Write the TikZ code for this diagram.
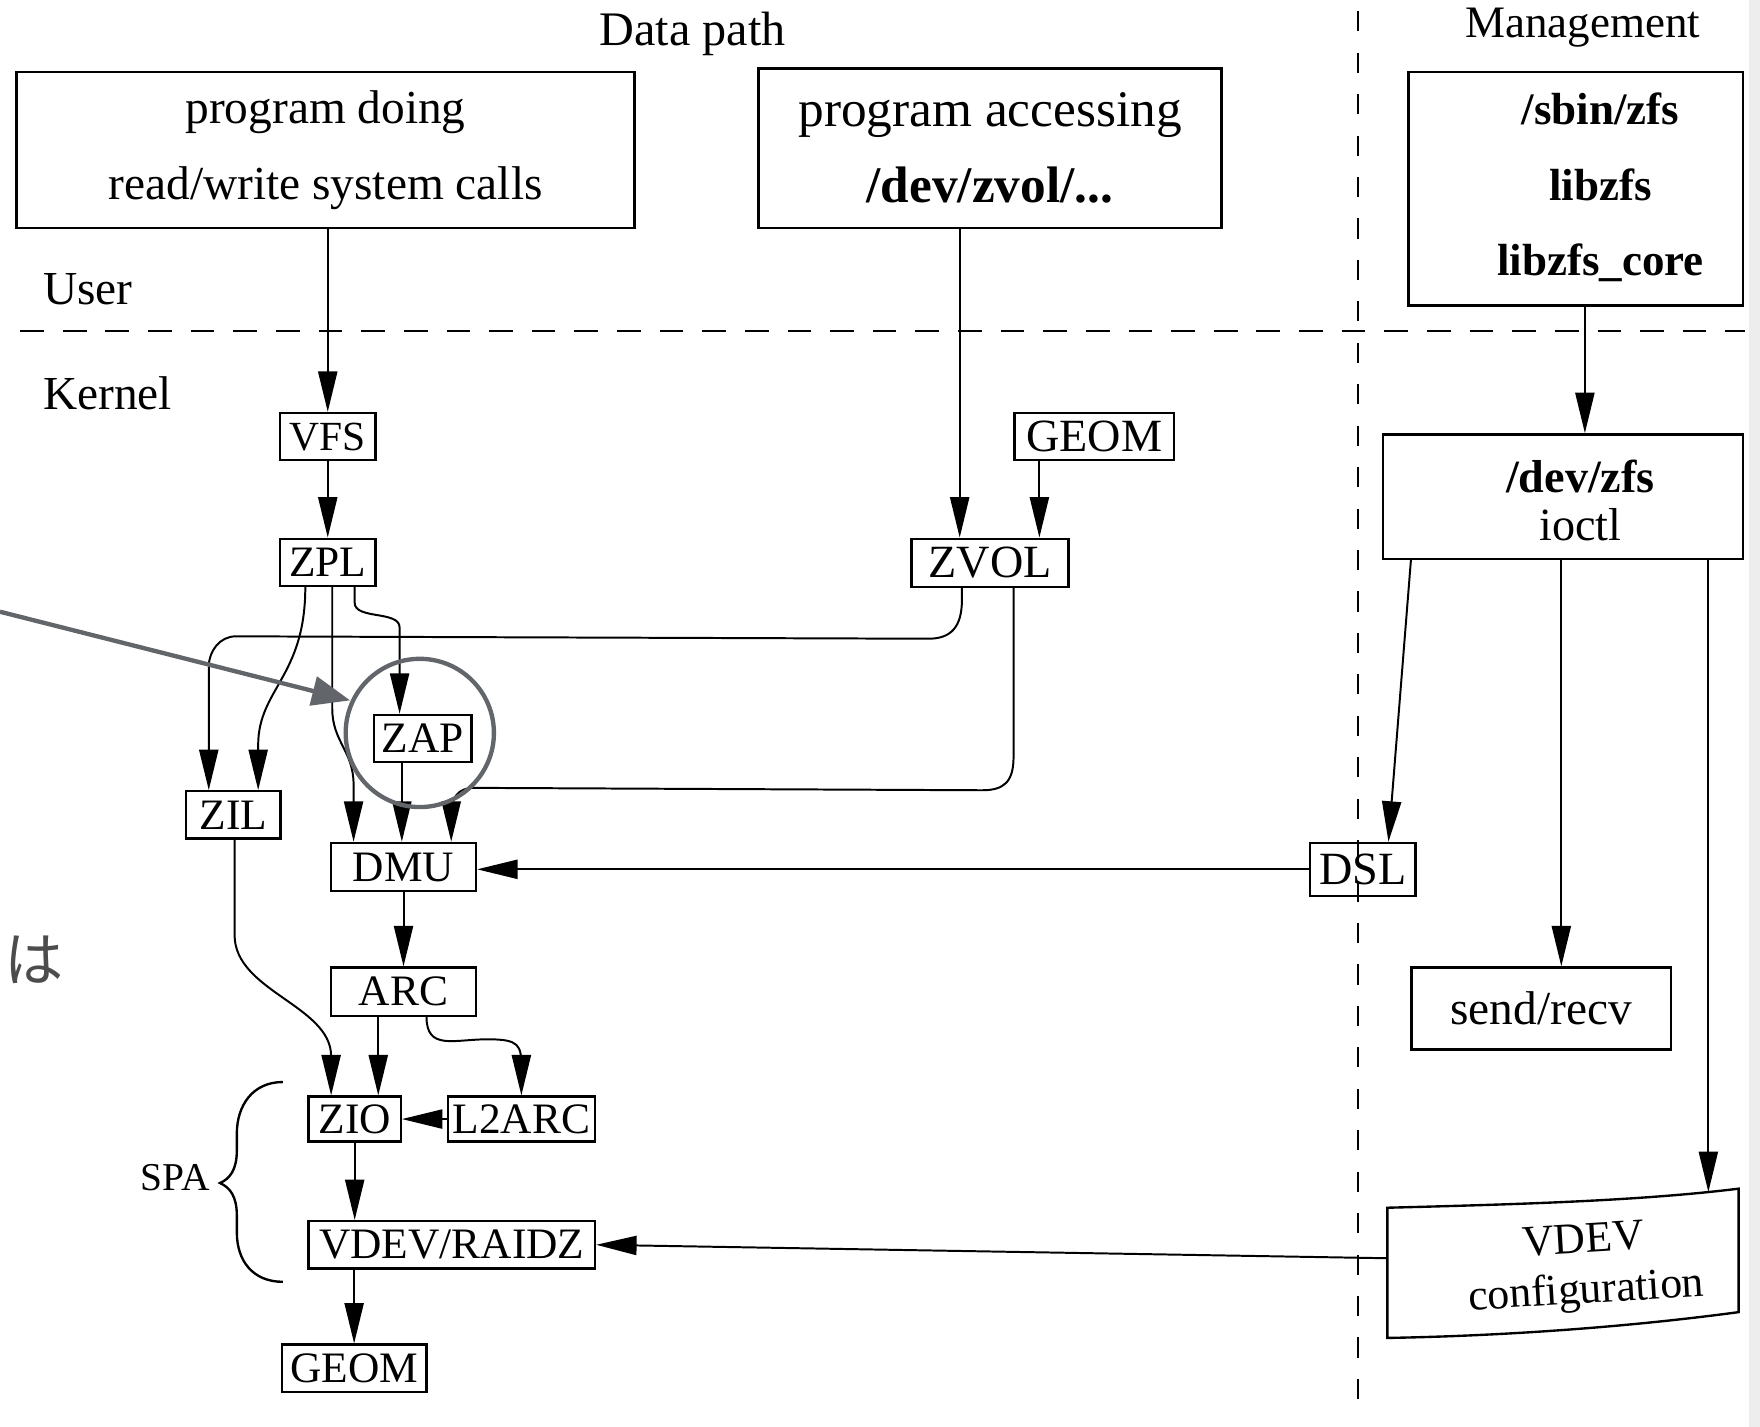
\documentclass[tikz,border=0pt]{standalone}
\usepackage{fontspec}
\setmainfont{Liberation Serif}
\newfontfamily\jpfont{Noto Sans CJK JP}
\usetikzlibrary{calc,arrows.meta}

\definecolor{annotgray}{RGB}{98,102,106}
\tikzset{
  bigbox/.style={draw, line width=0.6pt, inner sep=0pt},
  modbox/.style={draw, line width=0.6pt, inner sep=0pt, minimum height=0.42cm, font=\fontsize{11}{13}\selectfont},
  flow/.style={line width=0.5pt, -{Triangle[length=3.6mm,width=1.7mm]}},
  sepline/.style={line width=0.65pt, dash pattern=on 6pt off 4.8pt},
  vsepline/.style={line width=0.65pt, dash pattern=on 5.1pt off 5.4pt},
  hilite/.style={annotgray, line width=1.1pt}
}

\begin{document}
\begin{tikzpicture}[x=0.01cm, y=-0.01cm]
    \useasboundingbox (0,0) rectangle (1568,1271);
    \fill[black!7] (1558,0) rectangle (1568,1271);

    % separators and headings
    \draw[sepline] (18,295) -- (1555,295);
    \draw[vsepline] (1210,10) -- (1210,1265);
    \node[font=\fontsize{12.2}{14}\selectfont] (datapath) at (617,30) {Data path};
    \node[font=\fontsize{11.4}{14}\selectfont] (management) at (1410,25) {Management};
    \node[anchor=west, font=\fontsize{12}{14}\selectfont] (user) at (26,258) {User};
    \node[anchor=west, font=\fontsize{12}{14}\selectfont] (kernel) at (26,350) {Kernel};

    % user programs
    \node[bigbox, minimum width=5.5cm, minimum height=1.39cm, align=center,
      font=\fontsize{12}{19.3}\selectfont] (prog) at (290,133.5)
      {program doing\\read/write system calls};
    \node[bigbox, minimum width=4.12cm, minimum height=1.42cm, align=center,
      font=\fontsize{13}{19.3}\selectfont] (zvolprog) at (882,132)
      {program accessing\\\textbf{/dev/zvol/...}};
    \node[bigbox, minimum width=2.98cm, minimum height=2.08cm] (mgmt) at (1404,168) {};
    \node[align=center, font=\bfseries\fontsize{11.4}{19.2}\selectfont] (mgmttext) at (1426,167)
      {/sbin/zfs\\libzfs\\libzfs\_core};

    % kernel modules
    \node[modbox, minimum width=0.85cm, font=\fontsize{10.5}{13}\selectfont] (vfs) at (292,389) {VFS};
    \node[modbox, minimum width=0.85cm] (zpl) at (292,501) {ZPL};
    \node[modbox, minimum width=1.42cm, font=\fontsize{11.7}{13}\selectfont] (geomtop) at (975,389) {GEOM};
    \node[modbox, minimum width=1.40cm, minimum height=0.43cm, font=\fontsize{11.7}{13}\selectfont] (zvol) at (882,501.5) {ZVOL};
    \node[modbox, minimum width=0.87cm] (zap) at (376.5,658) {ZAP};
    \node[modbox, minimum width=0.84cm] (zil) at (208,726) {ZIL};
    \node[modbox, minimum width=1.29cm, minimum height=0.43cm] (dmu) at (359.5,772.5) {DMU};
    \node[modbox, minimum width=0.94cm, minimum height=0.47cm, font=\fontsize{11.7}{13}\selectfont] (dsl) at (1214,774.5) {DSL};
    \node[modbox, minimum width=1.29cm, minimum height=0.43cm] (arc) at (359.5,883.5) {ARC};
    \node[modbox, minimum width=0.82cm, minimum height=0.40cm] (zio) at (316,997) {ZIO};
    \node[modbox, minimum width=1.31cm, minimum height=0.40cm] (ltwoarc) at (464.5,997) {L2ARC};
    \node[modbox, minimum width=2.55cm] (vdevraidz) at (402.5,1109) {VDEV/RAIDZ};
    \node[modbox, minimum width=1.29cm] (geombot) at (315.5,1219) {GEOM};

    % management side
    \node[bigbox, minimum width=3.21cm, minimum height=1.11cm] (devzfs) at (1392.5,442.5) {};
    \node[align=center, font=\fontsize{11.7}{12}\selectfont] (devzfstext) at (1408,446)
      {\textbf{/dev/zfs}\\ioctl};
    \node[bigbox, minimum width=2.31cm, minimum height=0.73cm, font=\fontsize{12}{14}\selectfont] (sendrecv) at (1373,898.5) {send/recv};
    \draw[line width=0.6pt] (1236,1076) .. controls (1350,1073) and (1460,1070) .. (1549,1059)
      -- (1549,1169) .. controls (1460,1181) and (1350,1190) .. (1236,1192) -- cycle;
    \node[align=center, rotate=3.5, font=\fontsize{11.1}{12.8}\selectfont] (vdevconf) at (1412,1130)
      {VDEV\\configuration};
    \coordinate (vcTop) at (1522,1062);
    \coordinate (vcLeft) at (1236,1121);

    % SPA brace
    \draw[line width=0.6pt] (252,964) .. controls (225,964) and (211,985) .. (211,1010) -- (211,1025)
      .. controls (211,1042) and (205,1050) .. (196,1054)
      .. controls (205,1058) and (211,1066) .. (211,1083) -- (211,1098)
      .. controls (211,1123) and (225,1142) .. (252,1142);
    \node[font=\fontsize{10}{12}\selectfont] (spa) at (156,1049) {SPA};

    % ports
    \coordinate (zvolL) at ($(zvol.north)+(-27,0)$);
    \coordinate (zvolR) at ($(zvol.north)+(44,0)$);
    \coordinate (dzIn) at ($(devzfs.north)+(19.5,0)$);
    \coordinate (zilL) at ($(zil.north)+(-22,0)$);
    \coordinate (zilR) at ($(zil.north)+(22,0)$);
    \coordinate (dmuL) at ($(dmu.north)+(-44.5,0)$);
    \coordinate (dmuM) at ($(dmu.north)+(-1.5,0)$);
    \coordinate (dmuR) at ($(dmu.north)+(42.5,0)$);
    \coordinate (zapIn) at ($(zap.north)+(-20.5,0)$);
    \coordinate (zioL) at ($(zio.north)+(-21,0)$);
    \coordinate (zioR) at ($(zio.north)+(21,0)$);
    \coordinate (srIn) at ($(sendrecv.north)+(18,0)$);

    % connectors
    \draw[flow] (prog.south -| vfs.north) -- (vfs.north);
    \draw[flow] (vfs) -- (zpl);
    \draw[flow] (zvolprog.south -| zvolL) -- (zvolL);
    \draw[flow] (geomtop.south -| zvolR) -- (zvolR);
    \draw[flow] (mgmt.south -| dzIn) -- (dzIn);
    \draw[flow] ($(zpl.south)+(-20,0)$) .. controls +(0,80) and +(0,-50) .. ($(zilR)+(0,-40)$) -- (zilR);
    \draw[flow] ($(zpl.south)+(4,0)$) -- ++(0,108)
      .. controls +(0,30) and +(0,-30) .. ($(dmuL)+(0,-51)$) -- (dmuL);
    \draw[flow] ($(zpl.south)+(24,0)$) -- ++(0,14)
      .. controls +(0,15) and +(0,-15) .. ($(zapIn)+(0,-77)$) -- (zapIn);
    \draw[flow] ($(zvol.south)+(-25,0)$) -- ++(0,10)
      .. controls +(0,25) and +(20,0) .. ++(-30,35)
      -- ($(zilL)+(24,-137)$)
      .. controls +(-14,0) and +(0,-14) .. ($(zilL)+(0,-110)$) -- (zilL);
    \draw[flow] ($(zvol.south)+(21,0)$) -- ++(0,150)
      .. controls +(0,22) and +(20,0) .. ++(-28,30)
      -- ($(dmuR)+(20,-48)$)
      .. controls +(-14,0) and +(0,-14) .. ($(dmuR)+(0,-25)$) -- (dmuR);
    \draw[flow] (zap.south -| dmuM) -- (dmuM);
    \draw[flow] (dsl.west) -- (dsl.west -| dmu.east);
    \draw[flow] ($(devzfs.south)+(-135.5,0)$) -- ($(dsl.north)+(23,0)$);
    \draw[flow] (devzfs.south -| srIn) -- (srIn);
    \draw[flow] (devzfs.south -| vcTop) -- (vcTop);
    \draw[flow] (dmu) -- (arc);
    \draw[flow] ($(zil.south)+(1,0)$) -- ++(0,85)
      .. controls +(0,50) and +(0,-45) .. ($(zioL)+(0,-35)$) -- (zioL);
    \draw[flow] (arc.south -| zioR) -- (zioR);
    \draw[flow] ($(arc.south)+(20.5,0)$) .. controls +(0,30) and +(-30,0) .. ($(ltwoarc.north)+(-30,-50)$)
      .. controls +(28,0) and +(0,-20) .. ($(ltwoarc.north)+(0,-25)$) -- (ltwoarc.north);
    \draw[flow] (ltwoarc.west) -- (zio.east);
    \draw[flow] (zio.south) -- (zio.south |- vdevraidz.north);
    \draw[flow] (vcLeft) -- (vdevraidz.east);
    \draw[flow] (vdevraidz.south -| geombot.north) -- (geombot.north);

    % annotation
    \draw[hilite, -{Triangle[length=3.4mm,width=2.6mm]}] (0,545) -- (312,624);
    \draw[hilite] (374,653) circle[radius=0.66cm];
    \node[text=black!70, font=\jpfont\fontsize{15}{15}\selectfont] (hamark) at (30,855) {は};
\end{tikzpicture}
\end{document}
